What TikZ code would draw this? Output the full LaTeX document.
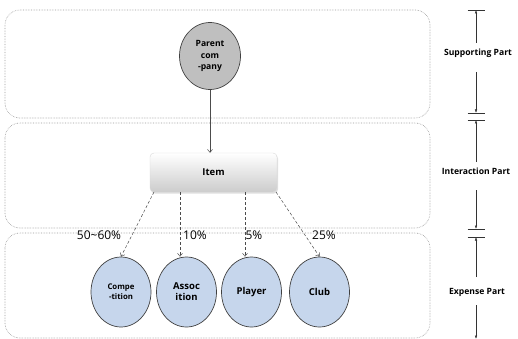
\documentclass[tikz,border=0pt]{standalone}
\usepackage{fontspec}
\setmainfont{Open Sans}
\usetikzlibrary{arrows.meta,shapes.geometric,shadows}
\definecolor{gfill}{HTML}{BFBFBF}
\definecolor{bfill}{HTML}{C6D6EC}
\definecolor{edgec}{HTML}{404040}
\tikzset{
  part/.style={draw=gray!80, densely dotted, line width=0.6pt, rounded corners=15pt},
  circ/.style={ellipse, draw=edgec, line width=0.7pt, fill=bfill, minimum width=60pt, minimum height=70pt, inner sep=0pt, align=center, font=\bfseries\fontsize{9.5}{11}\selectfont},
  pct/.style={font=\fontsize{12}{14}\selectfont, inner sep=0pt},
  lbl/.style={font=\bfseries\fontsize{8.6}{11}\selectfont, inner sep=0pt},
  dsh/.style={densely dashed, draw=gray!60!black, line width=0.5pt, -{Straight Barb[length=3pt,width=5pt]}},
  dim/.style={draw=black!80, line width=0.5pt, -{Latex[length=3.5pt,width=2.5pt]}},
  tick/.style={draw=black!80, line width=0.5pt}
}
\begin{document}
\begin{tikzpicture}[x=1pt,y=-1pt]
\useasboundingbox (0,0) rectangle (518,339);
% part boxes
\draw[part] (5,10) rectangle (430,118);
\draw[part] (5,123) rectangle (430,228);
\draw[part] (5,233) rectangle (430,338);
% parent
\node[ellipse, draw=edgec, line width=0.7pt, fill=gfill, minimum width=61pt, minimum height=67pt, inner sep=0pt, align=center, font=\bfseries\fontsize{8.6}{11.5}\selectfont] (parent) at (210,56) {Parent\\com\\-pany};
% item
\node[rounded corners=4pt, draw=gray!30, top color=white, bottom color=gray!40, minimum width=127pt, minimum height=39pt, inner sep=0pt, font=\bfseries\fontsize{9.5}{12}\selectfont, drop shadow={opacity=0.25, shadow xshift=1pt, shadow yshift=-1.5pt}] (item) at (213.5,172.5) {Item};
\draw[draw=gray!60!black, line width=0.5pt, -{Straight Barb[length=3pt,width=5pt]}] (parent.south) -- (item.north -| parent.south);
% expense circles
\node[circ, font=\bfseries\fontsize{7.8}{10}\selectfont] (comp) at (121,292) {Compe\\-tition};
\node[circ] (assoc) at (186.5,292) {Assoc\\ition};
\node[circ] (player) at (251.5,292) {Player};
\node[circ] (club) at (319.5,292) {Club};
% dashed arrows
\coordinate (i1) at (154,192);
\coordinate (i2) at (180,192);
\coordinate (i3) at (245,192);
\coordinate (i4) at (276,192);
\draw[dsh] (i1) -- (comp.north);
\draw[dsh] (i2) -- (i2 |- assoc.north);
\draw[dsh] (i3) -- (i3 |- player.north);
\draw[dsh] (i4) -- (club.north);
% percentages
\node[pct] (p1) at (99,235) {50\textasciitilde60\%};
\node[pct] (p2) at (195,235) {10\%};
\node[pct] (p3) at (254,235) {5\%};
\node[pct] (p4) at (324,235) {25\%};
% right side dimension
\node[lbl] (l1) at (478,53) {Supporting Part};
\node[lbl] (l2) at (476,171) {Interaction Part};
\node[lbl] (l3) at (477,292) {Expense Part};
\coordinate (t1) at (476,10);
\coordinate (t2) at (476,113);
\coordinate (t3) at (476,120);
\coordinate (t4) at (476,229);
\coordinate (t5) at (476,237);
\coordinate (t6) at (476,339);
\foreach \t in {t1,t2,t3,t4,t5}{\draw[tick] ([xshift=-8.5pt]\t) -- ([xshift=8.5pt]\t);}
\draw[dim] (476,43) -- (t1);
\draw[dim] (476,72) -- (t2);
\draw[dim] (476,162) -- (t3);
\draw[dim] (476,190) -- (t4);
\draw[dim] (476,277) -- (t5);
\draw[dim] (476,305) -- (t6);
\end{tikzpicture}
\end{document}
